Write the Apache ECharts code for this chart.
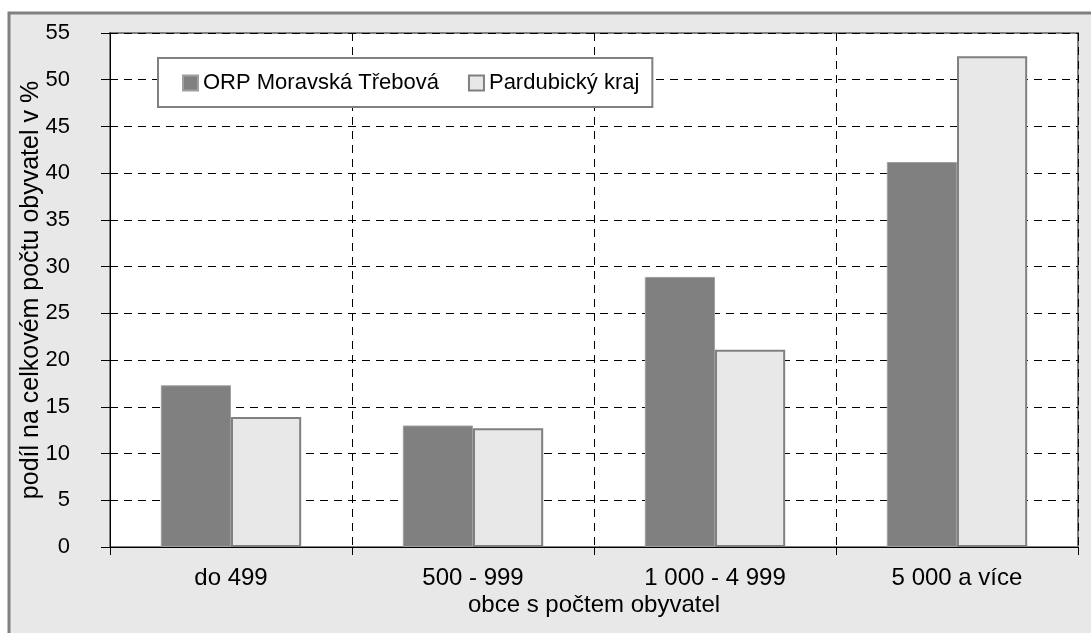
<!DOCTYPE html>
<html>
<head>
<meta charset="utf-8">
<script src="https://cdn.jsdelivr.net/npm/echarts@6/dist/echarts.min.js"></script>
<style>
  html,body{margin:0;padding:0;background:#fff;}
  #chart{width:1091px;height:633px;}
</style>
</head>
<body>
<div id="chart"></div>
<script>
const categories = ['do 499', '500 - 999', '1 000 - 4 999', '5 000 a více'];
const orpValues = [17.3, 13.0, 28.9, 41.2];
const krajValues = [13.9, 12.7, 21.1, 52.5];
const yTicks = {min: 0, max: 55, interval: 5};

const chart = echarts.init(document.getElementById('chart'));
const font = "'Liberation Sans', Arial, sans-serif";

const option = {
  animation: false,
  graphic: {
    elements: [{
      type: 'rect',
      z: -10,
      shape: {x: 9, y: 13, width: 1100, height: 640},
      style: {fill: '#e8e8e8', stroke: '#808080', lineWidth: 3}
    }]
  },
  grid: {
    left: 110, right: 13, top: 33, bottom: 86,
    show: true,
    backgroundColor: '#fff',
    borderColor: '#808080',
    borderWidth: 2
  },
  legend: {
    left: 158, top: 58,
    padding: [14, 13, 13, 24],
    backgroundColor: '#fff',
    borderColor: '#808080',
    borderWidth: 2,
    itemWidth: 15, itemHeight: 15,
    itemGap: 29,
    icon: 'rect',
    textStyle: {fontFamily: font, fontSize: 22, color: '#000'},
    data: ['ORP Moravská Třebová', 'Pardubický kraj']
  },
  xAxis: {
    type: 'category',
    data: categories,
    name: 'obce s počtem obyvatel',
    nameLocation: 'middle',
    nameGap: 46,
    nameMoveOverlap: false,
    nameTextStyle: {fontFamily: font, fontSize: 24, color: '#000'},
    axisLine: {lineStyle: {color: '#000', width: 1}},
    axisTick: {show: true, length: 8, lineStyle: {color: '#000'}},
    axisLabel: {fontFamily: font, fontSize: 24, color: '#000', margin: 19},
    splitLine: {show: true, lineStyle: {color: '#000', type: [8, 6], width: 1}}
  },
  yAxis: {
    type: 'value',
    min: yTicks.min, max: yTicks.max, interval: yTicks.interval,
    name: 'podíl na celkovém počtu obyvatel v %',
    nameLocation: 'middle',
    nameGap: 66,
    nameMoveOverlap: false,
    nameTextStyle: {fontFamily: font, fontSize: 25, color: '#000'},
    axisLine: {show: true, lineStyle: {color: '#000', width: 1}},
    axisTick: {show: true, length: 9, lineStyle: {color: '#000'}},
    axisLabel: {fontFamily: font, fontSize: 22, color: '#000', margin: 40},
    splitLine: {show: true, lineStyle: {color: '#000', type: [8, 6], width: 1}}
  },
  series: [
    {
      name: 'ORP Moravská Třebová',
      type: 'bar',
      data: orpValues,
      barGap: '0%',
      barCategoryGap: '42%',
      itemStyle: {color: '#808080', borderColor: '#a0a0a0', borderWidth: 1}
    },
    {
      name: 'Pardubický kraj',
      type: 'bar',
      data: krajValues,
      itemStyle: {color: '#e8e8e8', borderColor: '#808080', borderWidth: 2}
    }
  ]
};
chart.setOption(option);
</script>
</body>
</html>
